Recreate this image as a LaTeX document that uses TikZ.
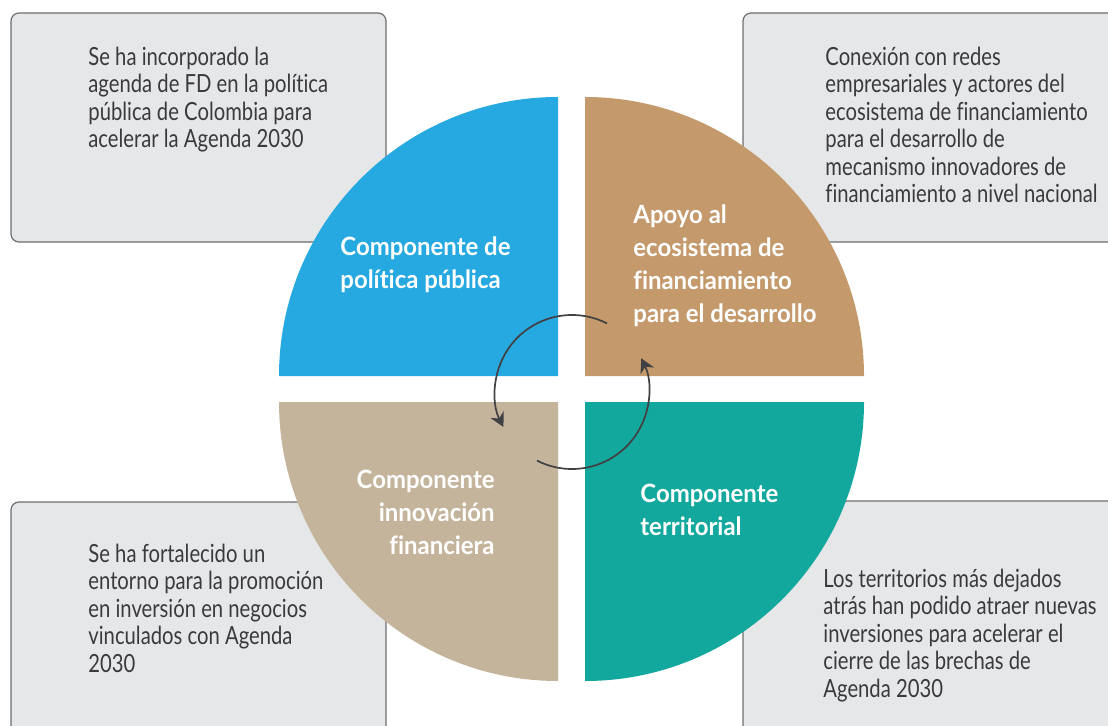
\documentclass[tikz,border=0pt]{standalone}
\usepackage{fontspec}
\setmainfont{Lato}[FakeStretch=0.81, Ligatures=NoCommon]
\newfontfamily\titulofont{Lato}[FakeStretch=0.95, Ligatures=NoCommon]
\usetikzlibrary{calc,arrows.meta}
\definecolor{azul}{HTML}{26A9E0}
\definecolor{cafe}{HTML}{C49A6C}
\definecolor{arena}{HTML}{C4B49B}
\definecolor{verde}{HTML}{13A89D}
\definecolor{cajagris}{HTML}{E6E7E8}
\definecolor{bordegris}{HTML}{6D6E71}
\definecolor{textogris}{HTML}{3A3A3C}
\definecolor{flecha}{HTML}{414042}

\begin{document}
\begin{tikzpicture}[x=0.5pt, y=0.5pt, >={Stealth[length=7pt,width=7.5pt]},
  caja/.style={fill=cajagris, draw=bordegris, line width=0.6pt, rounded corners=4pt},
  nota/.style={anchor=base west, align=left, inner sep=0pt, text=textogris,
    font=\fontsize{12.5}{13.75}\selectfont},
  titulo/.style={anchor=base west, align=left, inner sep=0pt, text=white,
    font=\titulofont\bfseries\fontsize{12.6}{16.5}\selectfont},
  giro/.style={->, draw=flecha, line width=0.85pt}]
\useasboundingbox (0,0) rectangle (1108,725);
\clip (0,0) rectangle (1108,725);

% cajas grises
\draw[caja] (11,483) rectangle (386,712);
\draw[caja] (743,483) rectangle (1130,712);
\draw[caja] (11,-20) rectangle (386,223);
\draw[caja] (743,-20) rectangle (1130,224);

% cuadrantes
\fill[azul] (558,349) -- (279,349) arc[start angle=180, end angle=90, radius=279] -- cycle;
\fill[cafe] (585,349) -- (585,628) arc[start angle=90, end angle=0, radius=279] -- cycle;
\fill[arena] (558,323) -- (558,44) arc[start angle=270, end angle=180, radius=279] -- cycle;
\fill[verde] (585,323) -- (864,323) arc[start angle=0, end angle=-90, radius=279] -- cycle;

% textos de las cajas (base = ultima linea)
\node[nota] (notaPolitica) at (88,577.5) {Se ha incorporado la\\agenda de FD en la política\\pública de Colombia para\\acelerar la Agenda 2030};
\node[nota] (notaEcosistema) at (825,522.5) {Conexión con redes\\empresariales y actores del\\ecosistema de financiamiento\\para el desarrollo de\\mecanismo innovadores de\\financiamiento a nivel nacional};
\node[nota] (notaInnovacion) at (88,53) {Se ha fortalecido un\\entorno para la promoción\\en inversión en negocios\\vinculados con Agenda\\2030};
\node[nota] (notaTerritorio) at (823,28) {Los territorios más dejados\\atrás han podido atraer nuevas\\inversiones para acelerar el\\cierre de las brechas de\\Agenda 2030};

% titulos
\node[titulo] (politica) at (340,437) {Componente de\\política pública};
\node[titulo] (ecosistema) at (633,403) {Apoyo al\\ecosistema de\\financiamiento\\para el desarrollo};
\node[titulo, anchor=base east, align=right] (innovacion) at (495,171) {Componente\\innovación\\financiera};
\node[titulo] (territorial) at (640,190) {Componente\\territorial};

% ciclo
\coordinate (centro) at (572,333);
\coordinate (giroA) at ($(centro)+(63:77)$);
\coordinate (giroB) at ($(centro)+(243:77)$);
\draw[giro] (giroA) arc[start angle=63, end angle=207, radius=77];
\draw[giro] (giroB) arc[start angle=243, end angle=386, radius=77];
\end{tikzpicture}
\end{document}
